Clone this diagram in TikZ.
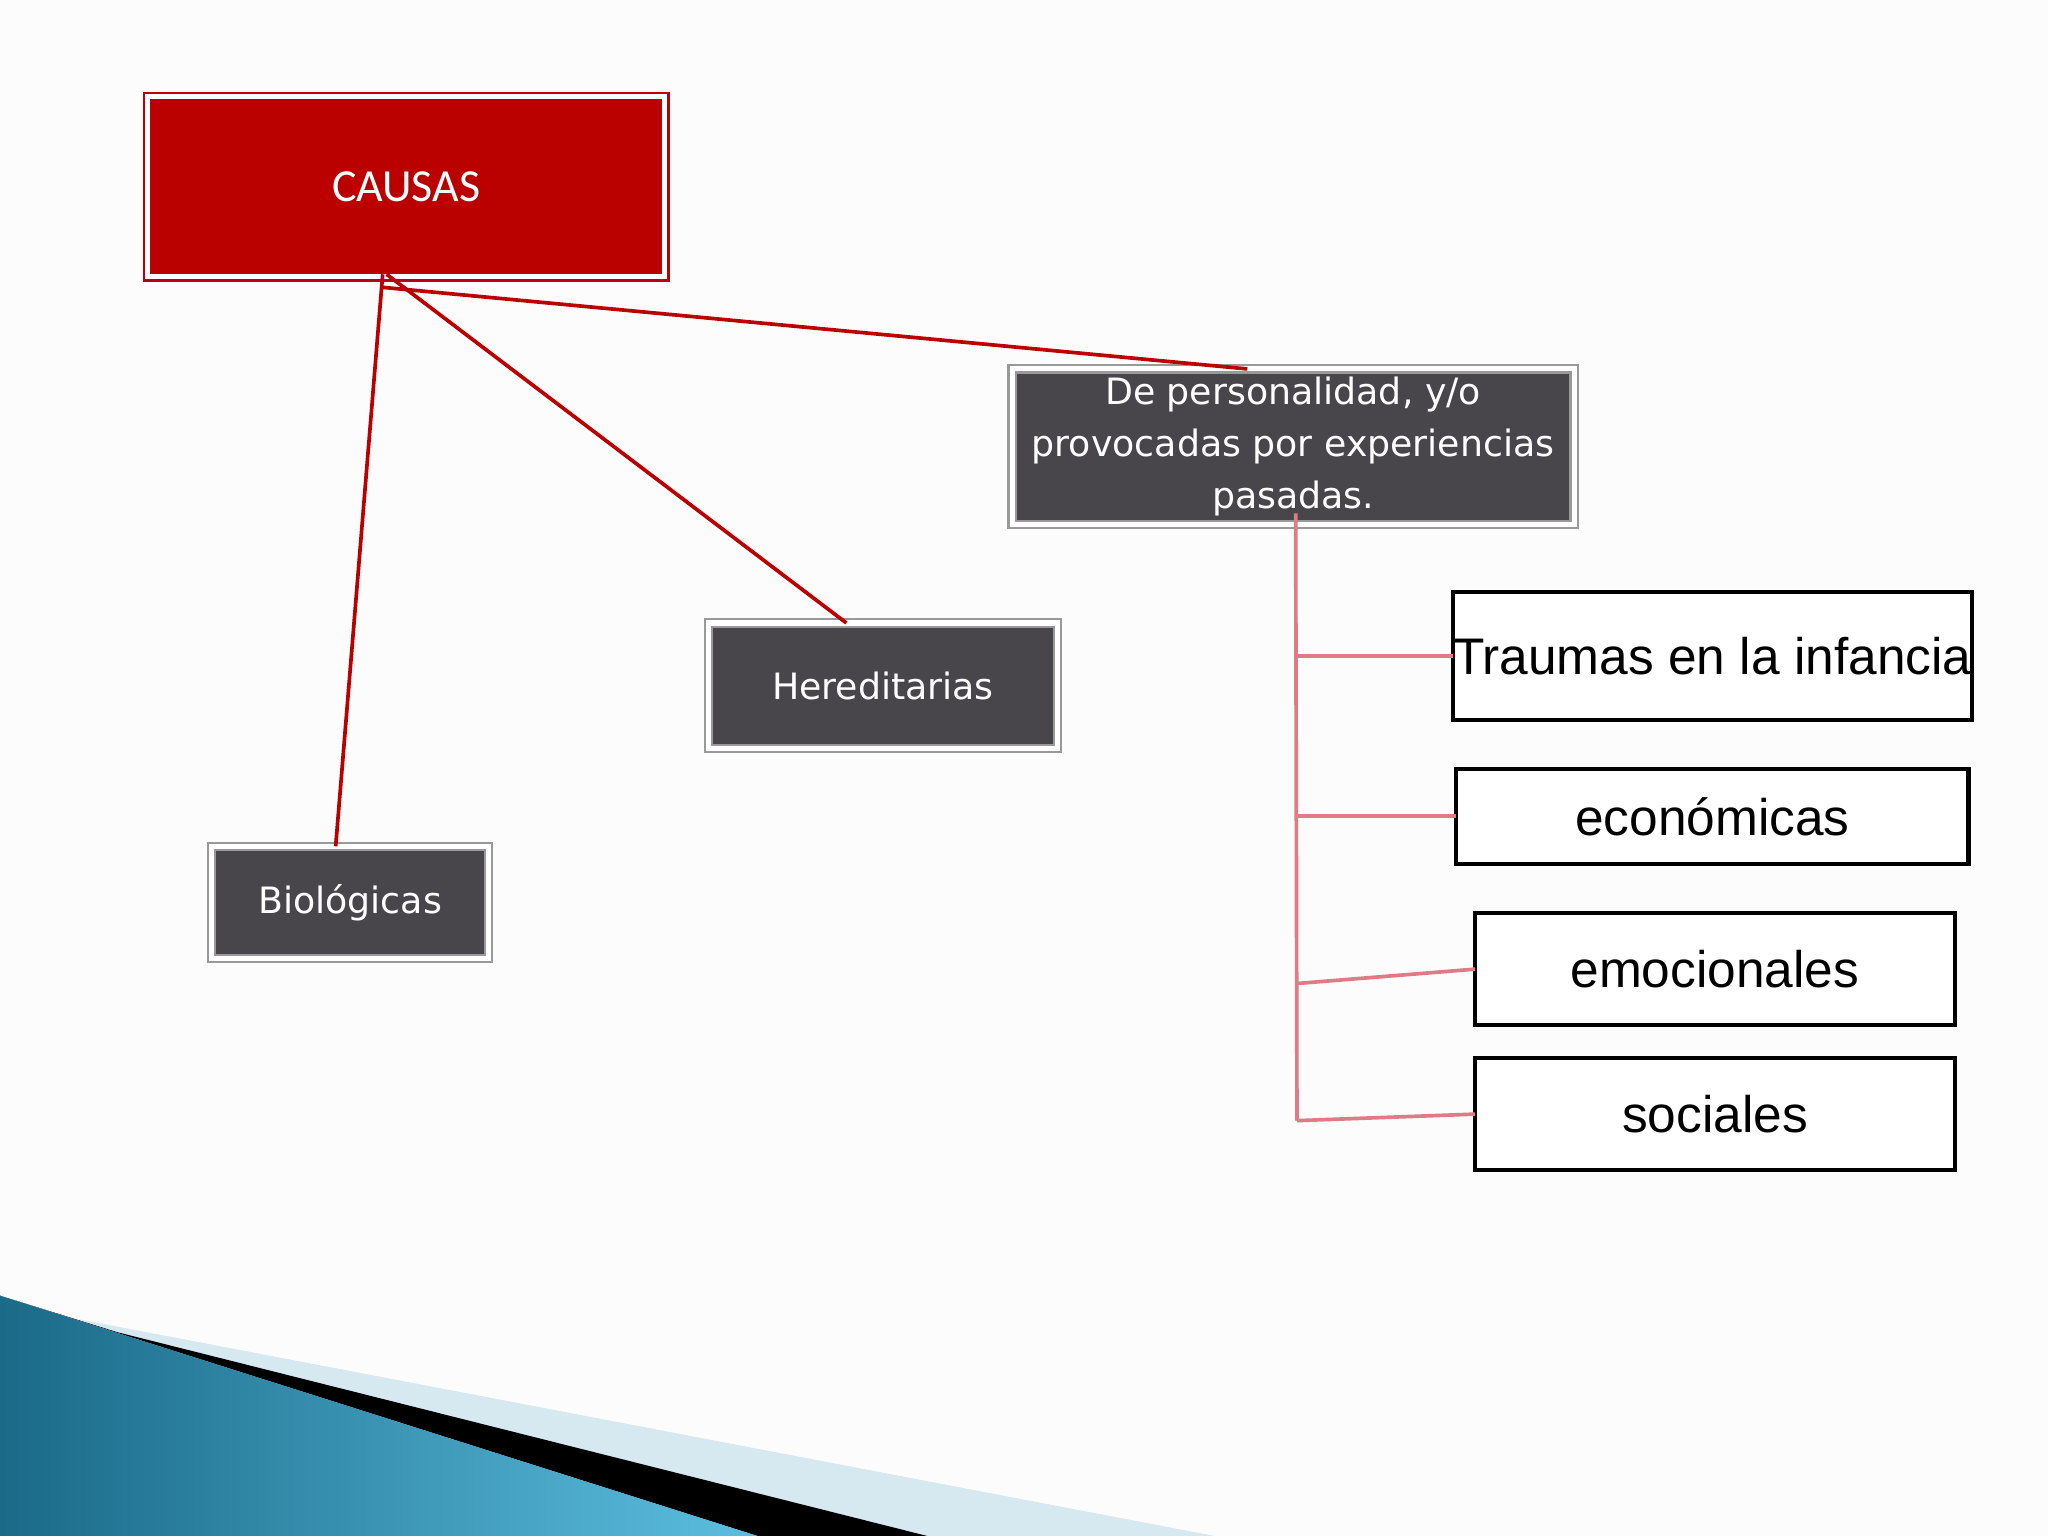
\documentclass[tikz,border=0pt]{standalone}
\usepackage{fontspec}
\setmainfont{DejaVu Sans}
\newfontfamily\calib{Carlito}
\newfontfamily\arialf{Liberation Sans}
\definecolor{cred}{HTML}{BB0000}
\definecolor{cdark}{HTML}{48464A}
\definecolor{cpink}{HTML}{E07A85}
\definecolor{tealdark}{HTML}{1A6A88}
\definecolor{teallight}{HTML}{5CBEDF}
\definecolor{lightband}{HTML}{D6E8F0}
\begin{document}
\begin{tikzpicture}[x=0.01cm,y=-0.01cm,
  darkbox/.style={draw=gray!80,line width=0.45pt,fill=cdark,text=white,inner sep=0pt,outer sep=0pt,
     double=white,double distance=1.1pt,align=center,font=\fontsize{7.9}{11.3}\selectfont},
  whitebox/.style={draw=black,line width=0.9pt,fill=white,inner sep=0pt,outer sep=0pt,font=\arialf\fontsize{11.2}{13}\selectfont},
  redline/.style={cred,line width=0.8pt},
  pinkline/.style={cpink,line width=0.8pt}]
\useasboundingbox (0,0) rectangle (1568,1176);
\fill[white!98!gray] (0,0) rectangle (1568,1176);
% bottom decoration
\fill[lightband] (60,1010) -- (930,1176) -- (560,1176) -- cycle;
\fill[black] (0,992) -- (90,1020) -- (710,1176) -- (580,1176) -- cycle;
\shade[left color=tealdark, right color=teallight] (0,992) -- (580,1176) -- (0,1176) -- cycle;
% nodes
\node[draw=cred,line width=0.5pt,fill=cred,text=white,inner sep=0pt,outer sep=0pt,
  font=\calib\fontsize{10}{12}\selectfont,double=white,double distance=1.1pt,
  minimum width=3.96cm,minimum height=1.38cm] (causas) at (311,143) {CAUSAS};
\node[darkbox,minimum width=4.3cm,minimum height=1.19cm] (pers) at (990,342)
  {De personalidad, y/o\\provocadas por experiencias\\pasadas.};
\node[darkbox,minimum width=2.67cm,minimum height=0.96cm] (here) at (676,525) {Hereditarias};
\node[darkbox,minimum width=2.12cm,minimum height=0.86cm] (bio) at (268,691) {Biológicas};
\node[whitebox,minimum width=3.92cm,minimum height=0.98cm] (trau) at (1311,502) {Traumas en la infancia};
\node[whitebox,minimum width=3.92cm,minimum height=0.73cm] (eco) at (1311,625) {económicas};
\node[whitebox,minimum width=3.67cm,minimum height=0.86cm] (emo) at (1313,742) {emocionales};
\node[whitebox,minimum width=3.67cm,minimum height=0.86cm] (soc) at (1313,853) {sociales};
% connectors
\coordinate (c1) at (293,210);
\coordinate (c2) at (296,210);
\coordinate (c3) at (293,220);
\draw[redline] (c1) -- (bio.north -| 257,0);
\draw[redline] (c2) -- (here.north -| 648,0);
\draw[redline] (c3) -- (pers.north -| 955,0);
\coordinate (v0) at (992,393);
\coordinate (v1) at (993,858);
\coordinate (h3) at (993,753);
\draw[pinkline] (v0) -- (v1);
\draw[pinkline] (trau.west -| 993,0) -- (trau.west);
\draw[pinkline] (eco.west -| 993,0) -- (eco.west);
\draw[pinkline] (h3) -- (emo.west);
\draw[pinkline] (v1) -- (soc.west);
\end{tikzpicture}
\end{document}
